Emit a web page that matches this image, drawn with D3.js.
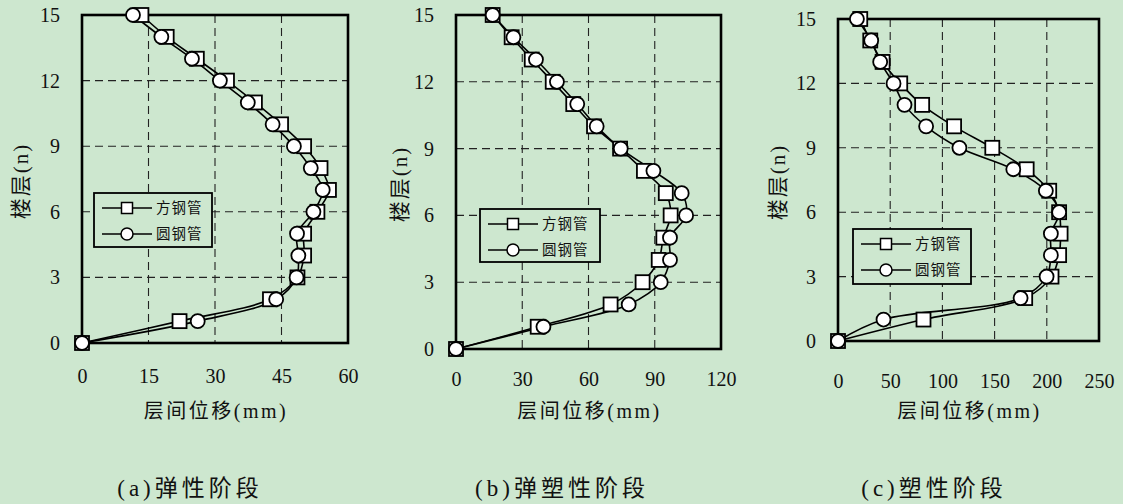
<!DOCTYPE html>
<html>
<head>
<meta charset="utf-8">
<script src="https://cdnjs.cloudflare.com/ajax/libs/d3/7.8.5/d3.min.js"></script>
<style>
  html, body { margin: 0; padding: 0; background: #cde7cf; }
  svg { display: block; }
  text { font-family: "Liberation Serif", "Noto Sans CJK SC", serif; fill: #111; }
</style>
</head>
<body>
<svg id="chart" width="1123" height="504"></svg>
<script>
// Floors 0..15
const floors = [0, 1, 2, 3, 4, 5, 6, 7, 8, 9, 10, 11, 12, 13, 14, 15];

// Inter-storey displacement (mm), elastic stage
const elasticSquare = [0, 22, 42.4, 48.6, 50.1, 50.1, 53.1, 55.7, 53.8, 50.1, 44.9, 39.0, 32.7, 25.9, 19.1, 13.4];
const elasticCircle = [0, 26.1, 43.8, 48.4, 48.8, 48.5, 52.2, 54.3, 51.6, 47.8, 43.0, 37.4, 31.1, 24.8, 17.9, 11.5];

// Elasto-plastic stage
const elastoSquare = [0, 37.0, 70.0, 84.5, 91.8, 93.9, 97.2, 95.0, 85.1, 74.3, 62.5, 53.1, 43.8, 34.3, 25.2, 16.6];
const elastoCircle = [0, 39.6, 78.2, 92.7, 96.9, 96.9, 104.2, 102.2, 89.4, 74.6, 63.7, 54.9, 45.7, 36.2, 26.0, 16.6];

// Plastic stage
const plasticSquare = [0, 81.9, 179.3, 204.5, 211.8, 213.2, 211.8, 202.3, 180.7, 147.8, 111.2, 80.6, 59.6, 42.7, 30.9, 21.3];
const plasticCircle = [0, 43.6, 174.9, 199.8, 203.9, 203.9, 211.8, 199.1, 167.9, 116.3, 84.4, 63.7, 53.2, 40.4, 31.8, 18.1];

const xTicksA = [0, 15, 30, 45, 60];
const xTicksB = [0, 30, 60, 90, 120];
const xTicksC = [0, 50, 100, 150, 200, 250];
const yTicks = [0, 3, 6, 9, 12, 15];

const seriesNames = ["方钢管", "圆钢管"];
const xTitle = "层间位移(mm)";
const yTitle = "楼层(n)";
const captions = ["(a)弹性阶段", "(b)弹塑性阶段", "(c)塑性阶段"];

const panels = [
  { box: [82, 15, 348, 343], xMax: 60, xTicks: xTicksA, sq: elasticSquare, ci: elasticCircle,
    legend: [94, 193, 212, 247], yLabelX: 21, xLabelY: 383, caption: captions[0], capX: 190 },
  { box: [456, 15, 721, 349], xMax: 120, xTicks: xTicksB, sq: elastoSquare, ci: elastoCircle,
    legend: [480, 209, 600, 262], yLabelX: 400, xLabelY: 386, caption: captions[1], capX: 562 },
  { box: [838, 19, 1099, 341], xMax: 250, xTicks: xTicksC, sq: plasticSquare, ci: plasticCircle,
    legend: [853, 229, 971, 284], yLabelX: 778, xLabelY: 388, caption: captions[2], capX: 934 }
];

const svg = d3.select("#chart");

panels.forEach(p => {
  const [x0, y0, x1, y1] = p.box;
  const x = d3.scaleLinear().domain([0, p.xMax]).range([x0, x1]);
  const y = d3.scaleLinear().domain([0, 15]).range([y1, y0]);
  const g = svg.append("g");

  // dashed grid
  g.selectAll(".vg").data(p.xTicks.filter(t => t > 0 && t < p.xMax)).enter()
    .append("line")
    .attr("x1", d => x(d)).attr("x2", d => x(d))
    .attr("y1", y0).attr("y2", y1)
    .attr("stroke", "#222").attr("stroke-width", 1.1).attr("stroke-dasharray", "8,5");
  g.selectAll(".hg").data(yTicks.filter(t => t > 0 && t < 15)).enter()
    .append("line")
    .attr("x1", x0).attr("x2", x1)
    .attr("y1", d => y(d)).attr("y2", d => y(d))
    .attr("stroke", "#222").attr("stroke-width", 1.1).attr("stroke-dasharray", "8,5");

  // axes (labels only)
  const xAxis = d3.axisBottom(x).tickValues(p.xTicks).tickSize(0).tickPadding(0);
  const gx = g.append("g").attr("transform", `translate(0,${p.xLabelY})`).call(xAxis);
  gx.selectAll("text").attr("dy", null).attr("y", 0);
  const yAxis = d3.axisLeft(y).tickValues(yTicks).tickSize(0).tickPadding(22);
  const gy = g.append("g").attr("transform", `translate(${x0},0)`).call(yAxis);
  [gx, gy].forEach(a => {
    a.select(".domain").remove();
    a.selectAll("text").style("font-family", "'Liberation Serif', serif")
      .style("font-size", "20px").attr("fill", "#111");
  });

  // frame
  g.append("rect").attr("x", x0).attr("y", y0)
    .attr("width", x1 - x0).attr("height", y1 - y0)
    .attr("fill", "none").attr("stroke", "#000").attr("stroke-width", 2.6);

  // curves
  const line = d3.line()
    .x(d => x(d[0])).y(d => y(d[1]))
    .curve(d3.curveCatmullRom.alpha(0.5));
  const sqPts = floors.map((f, i) => [p.sq[i], f]);
  const ciPts = floors.map((f, i) => [p.ci[i], f]);
  [sqPts, ciPts].forEach(pts => {
    g.append("path").datum(pts).attr("d", line)
      .attr("fill", "none").attr("stroke", "#000").attr("stroke-width", 1.6);
  });

  // markers
  g.selectAll(".sq").data(sqPts).enter().append("rect")
    .attr("x", d => x(d[0]) - 7).attr("y", d => y(d[1]) - 7)
    .attr("width", 14).attr("height", 14)
    .attr("fill", "#fff").attr("stroke", "#000").attr("stroke-width", 1.8);
  g.selectAll(".ci").data(ciPts).enter().append("circle")
    .attr("cx", d => x(d[0])).attr("cy", d => y(d[1])).attr("r", 7)
    .attr("fill", "#fff").attr("stroke", "#000").attr("stroke-width", 1.8);

  // legend
  const [lx0, ly0, lx1, ly1] = p.legend;
  g.append("rect").attr("x", lx0).attr("y", ly0)
    .attr("width", lx1 - lx0).attr("height", ly1 - ly0)
    .attr("fill", "#cde7cf").attr("stroke", "#000").attr("stroke-width", 1.8);
  seriesNames.forEach((name, i) => {
    const ly = ly0 + 15 + i * 26;
    const mx = lx0 + 33;
    g.append("line").attr("x1", lx0 + 8).attr("x2", lx0 + 58)
      .attr("y1", ly).attr("y2", ly).attr("stroke", "#000").attr("stroke-width", 1.6);
    if (i === 0) {
      g.append("rect").attr("x", mx - 5.5).attr("y", ly - 5.5).attr("width", 11).attr("height", 11)
        .attr("fill", "#fff").attr("stroke", "#000").attr("stroke-width", 1.5);
    } else {
      g.append("circle").attr("cx", mx).attr("cy", ly).attr("r", 6)
        .attr("fill", "#fff").attr("stroke", "#000").attr("stroke-width", 1.5);
    }
    g.append("text").attr("x", lx0 + 62).attr("y", ly).attr("dy", "0.36em")
      .style("font-family", "'Noto Sans CJK SC', sans-serif").style("font-size", "14.5px")
      .style("letter-spacing", "1px").attr("fill", "#444").text(name);
  });

  // axis titles
  g.append("text").attr("x", (x0 + x1) / 2 + 1).attr("y", 418)
    .attr("text-anchor", "middle").style("font-size", "20px")
    .style("letter-spacing", "2.5px").text(xTitle);
  g.append("text")
    .attr("transform", `translate(${p.yLabelX},${(y0 + y1) / 2 + 2}) rotate(-90)`)
    .attr("text-anchor", "middle").attr("dy", "0.35em").style("font-size", "21px")
    .style("letter-spacing", "2px").text(yTitle);

  // caption
  g.append("text").attr("x", p.capX).attr("y", 496)
    .attr("text-anchor", "middle").style("font-size", "23px")
    .style("letter-spacing", "4px").text(p.caption);
});
</script>
</body>
</html>
